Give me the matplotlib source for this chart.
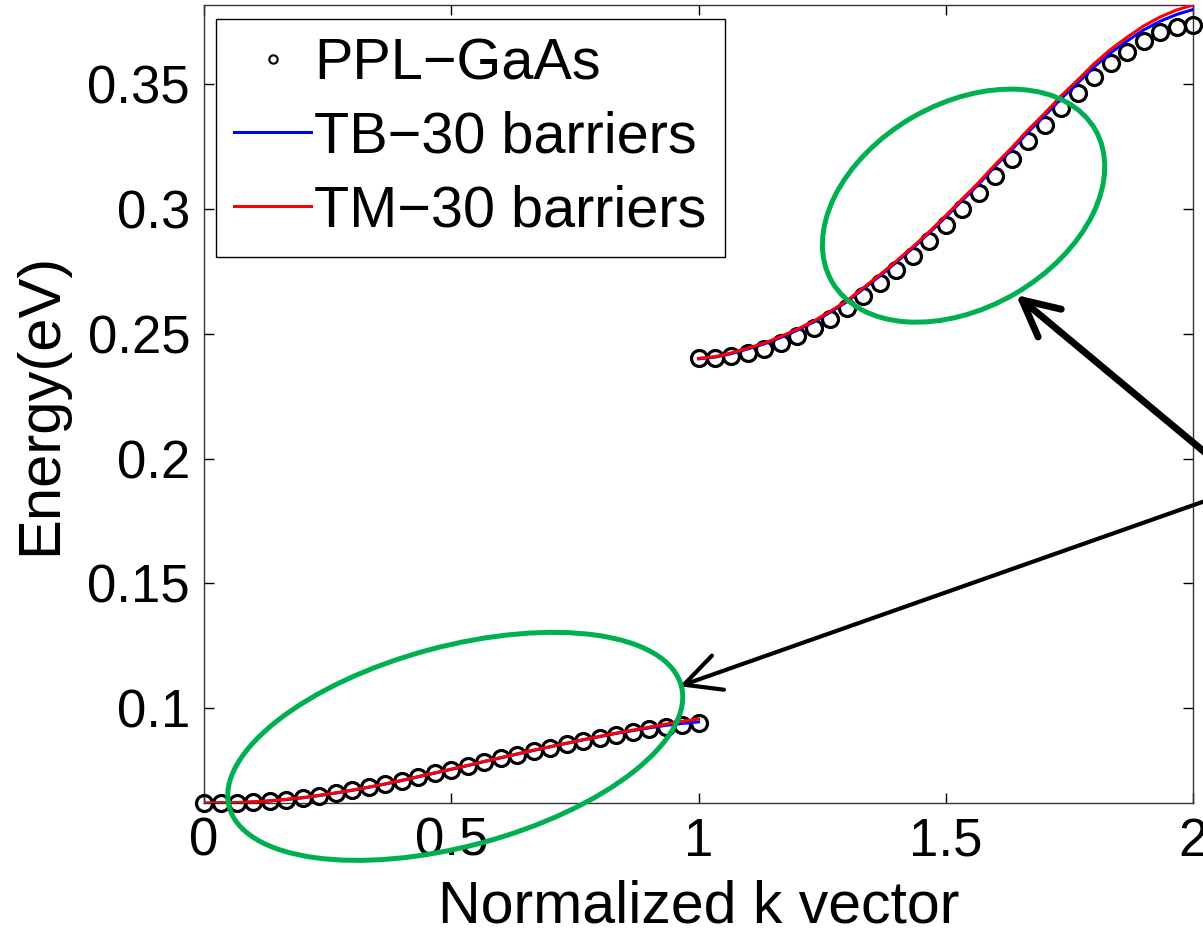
import numpy as np
import matplotlib
matplotlib.use("Agg")
from matplotlib import pyplot as plt
from matplotlib.patches import Ellipse, ArrowStyle
from matplotlib.lines import Line2D
from matplotlib.transforms import ScaledTranslation

# normalized k (31 points per band)
k_low = np.linspace(0.0, 1.0, 31)
k_high = np.linspace(1.0, 2.0, 31)

# PPL-GaAs reference (circles)
ppl_low = [0.0620, 0.0621, 0.0622, 0.0624, 0.0628, 0.0634, 0.0641, 0.0650, 0.0660, 0.0671,
           0.0683, 0.0696, 0.0710, 0.0724, 0.0739, 0.0754, 0.0769, 0.0784, 0.0799, 0.0814,
           0.0828, 0.0842, 0.0856, 0.0869, 0.0882, 0.0894, 0.0905, 0.0915, 0.0924, 0.0932,
           0.0941]
ppl_high = [0.2402, 0.2404, 0.2412, 0.2423, 0.2439, 0.2463, 0.2490, 0.2522, 0.2560, 0.2602,
            0.2653, 0.2704, 0.2758, 0.2814, 0.2874, 0.2937, 0.3002, 0.3066, 0.3134, 0.3200,
            0.3272, 0.3336, 0.3404, 0.3464, 0.3528, 0.3584, 0.3631, 0.3674, 0.3708, 0.3728,
            0.3738]

# tight binding, 30 barriers
tb_low = [0.0619, 0.0620, 0.0621, 0.0624, 0.0628, 0.0634, 0.0641, 0.0650, 0.0660, 0.0671,
          0.0683, 0.0696, 0.0710, 0.0725, 0.0740, 0.0755, 0.0770, 0.0786, 0.0801, 0.0816,
          0.0831, 0.0845, 0.0859, 0.0873, 0.0886, 0.0899, 0.0910, 0.0921, 0.0931, 0.0939,
          0.0945]
tb_high = [0.2400, 0.2407, 0.2421, 0.2440, 0.2460, 0.2486, 0.2515, 0.2548, 0.2587, 0.2629,
           0.2680, 0.2732, 0.2787, 0.2844, 0.2905, 0.2968, 0.3035, 0.3100, 0.3172, 0.3238,
           0.3309, 0.3374, 0.3443, 0.3505, 0.3570, 0.3626, 0.3674, 0.3718, 0.3753, 0.3780,
           0.3800]

# transfer matrix, 30 barriers
tm_low = [0.0620, 0.0621, 0.0622, 0.0625, 0.0629, 0.0635, 0.0642, 0.0651, 0.0661, 0.0672,
          0.0684, 0.0697, 0.0711, 0.0726, 0.0741, 0.0756, 0.0771, 0.0787, 0.0802, 0.0817,
          0.0832, 0.0846, 0.0860, 0.0874, 0.0887, 0.0900, 0.0912, 0.0924, 0.0936, 0.0947,
          0.0957]
tm_high = [0.2402, 0.2409, 0.2424, 0.2443, 0.2463, 0.2490, 0.2519, 0.2552, 0.2591, 0.2633,
           0.2685, 0.2737, 0.2792, 0.2849, 0.2910, 0.2974, 0.3041, 0.3107, 0.3179, 0.3246,
           0.3318, 0.3384, 0.3454, 0.3517, 0.3583, 0.3640, 0.3689, 0.3734, 0.3770, 0.3798,
           0.3818]

xticks = [0, 0.5, 1, 1.5, 2]
xticklabels = ["0", "0.5", "1", "1.5", "2"]
yticks = [0.1, 0.15, 0.2, 0.25, 0.3, 0.35]
yticklabels = ["0.1", "0.15", "0.2", "0.25", "0.3", "0.35"]

plt.rcParams['font.family'] = ['Liberation Sans', 'DejaVu Sans']

fig = plt.figure(figsize=(12.03, 9.32), dpi=100)
ax = fig.add_axes([0.1696, 0.1384, 0.8221, 0.8562])

circ = dict(marker='o', ls='none', ms=11.5, mfc='none', mec='k', mew=2.3, clip_on=False, zorder=3)
ax.plot(k_low, ppl_low, **circ)
ax.plot(k_high, ppl_high, **circ)
ax.plot(k_low, tb_low, color='#0000ff', lw=2.2, zorder=4)
ax.plot(k_high, tb_high, color='#0000ff', lw=2.2, zorder=4)
ax.plot(k_low, tm_low, color='#ff0000', lw=2.2, zorder=5)
ax.plot(k_high, tm_high, color='#ff0000', lw=2.2, zorder=5)

ax.set_xlim(0, 2)
ax.set_ylim(min(ppl_low), max(tm_high))
ax.set_xticks(xticks)
ax.set_xticklabels(xticklabels)
ax.set_yticks(yticks)
ax.set_yticklabels(yticklabels)
ax.tick_params(direction='in', length=7, width=1, labelsize=38, top=True, right=True, pad=10)
for s in ax.spines.values():
    s.set_linewidth(1.0)
    s.set_color('#333333')

ax.set_xlabel("Normalized k vector", fontsize=42.5, labelpad=9)
ax.set_ylabel("Energy(eV)", fontsize=43, labelpad=14)

handles = [Line2D([], [], marker='o', ls='none', ms=6, mfc='none', mec='k', mew=1.5),
           Line2D([], [], color='#0000ff', lw=2.2),
           Line2D([], [], color='#ff0000', lw=2.2)]
leg = ax.legend(handles, ["PPL\u2212GaAs", "TB\u221230 barriers", "TM\u221230 barriers"],
                loc='upper left', bbox_to_anchor=(0.012, 0.983), borderaxespad=0,
                fontsize=41.5, handlelength=1.33, handletextpad=0.05, labelspacing=0.34,
                borderpad=0.32, fancybox=False, framealpha=1, edgecolor='k')
leg.get_frame().set_linewidth(1.0)
leg.set_zorder(6)

# green highlight ellipses: centre in data units, size in inches, tilt in degrees
green = '#00b050'
ell_centres = [(0.508, 0.0847), (1.536, 0.3014)]
ell_sizes = [(4.68, 2.0), (3.04, 2.04)]
ell_angles = [15, 30]
for (cx, cy), (w, h), a in zip(ell_centres, ell_sizes, ell_angles):
    tr = fig.dpi_scale_trans + ScaledTranslation(cx, cy, ax.transData)
    ax.add_patch(Ellipse((0, 0), w, h, angle=a, transform=tr, fill=False,
                         ec=green, lw=3.6, clip_on=False, zorder=7))

# arrows from a common point off to the right
origin = (2.107, 0.1888)
tips = [(1.642, 0.2656), (0.9615, 0.1088)]
widths = [5.0, 3.0]
for tip, lw in zip(tips, widths):
    ax.annotate('', xy=tip, xytext=origin, annotation_clip=False,
                arrowprops=dict(arrowstyle=ArrowStyle('->', head_length=1.3, head_width=0.65),
                                mutation_scale=20, lw=lw, color='k',
                                shrinkA=0, shrinkB=0))

fig.savefig("out.png", dpi=100)
